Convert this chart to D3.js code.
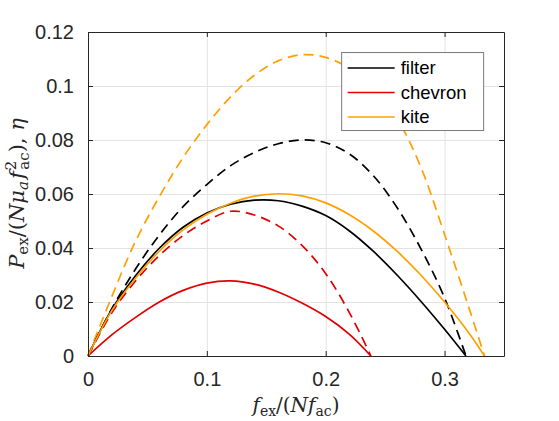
<!DOCTYPE html>
<html>
<head>
<meta charset="utf-8">
<script src="https://cdn.jsdelivr.net/npm/d3@7"></script>
<style>
    body { margin: 0; background: #fff; }
    .axis .tick text { font-family: "Liberation Sans", Arial, sans-serif; font-size: 20px; fill: #262626; }
    .legend-label { font-family: "Liberation Sans", Arial, sans-serif; font-size: 18.5px; fill: #000; }
    .math { font-family: "DejaVu Serif", serif; fill: #262626; }
</style>
</head>
<body>
<div id="chart"></div>
<script>
// values
let seriesNames = ["filter", "chevron", "kite"];
let seriesColors = ["#000000", "#e00000", "#ffa000"];

let xFilter = [0, 0.02, 0.04, 0.06, 0.08, 0.10, 0.12, 0.14, 0.16, 0.18, 0.20, 0.22, 0.24, 0.26, 0.28, 0.30, 0.318];
let filterPower = [0, 0.0172, 0.0297, 0.0399, 0.0477, 0.0530, 0.0562, 0.0577, 0.0575, 0.0555, 0.0520, 0.0463, 0.0388, 0.0300, 0.0203, 0.0099, 0];
let filterEff = [0, 0.0175, 0.0322, 0.0448, 0.0553, 0.0635, 0.0705, 0.0754, 0.0786, 0.0800, 0.0790, 0.0748, 0.0668, 0.0550, 0.0398, 0.0215, 0];

let xChevron = [0, 0.02, 0.04, 0.06, 0.08, 0.10, 0.12, 0.14, 0.16, 0.18, 0.20, 0.22, 0.238];
let chevronPower = [0, 0.0078, 0.0143, 0.0200, 0.0243, 0.0270, 0.0278, 0.0266, 0.0237, 0.0196, 0.0146, 0.0080, 0];
let chevronEff = [0, 0.0160, 0.0278, 0.0372, 0.0446, 0.0500, 0.0536, 0.0522, 0.0482, 0.0410, 0.0305, 0.0160, 0];

let xKite = [0, 0.02, 0.04, 0.06, 0.08, 0.10, 0.12, 0.14, 0.16, 0.18, 0.20, 0.22, 0.24, 0.26, 0.28, 0.30, 0.32, 0.3336];
let kitePower = [0, 0.0168, 0.0288, 0.0388, 0.0467, 0.0525, 0.0566, 0.0592, 0.0601, 0.0593, 0.0567, 0.0523, 0.0463, 0.0388, 0.0300, 0.0200, 0.0088, 0];
let kiteEff = [0, 0.0220, 0.0425, 0.0590, 0.0735, 0.0857, 0.0960, 0.1040, 0.1093, 0.1116, 0.1106, 0.1065, 0.0995, 0.0880, 0.0700, 0.0450, 0.0185, 0];

let xTicks = [0, 0.1, 0.2, 0.3];
let xTickLabels = ["0", "0.1", "0.2", "0.3"];
let yTicks = [0, 0.02, 0.04, 0.06, 0.08, 0.1, 0.12];
let yTickLabels = ["0", "0.02", "0.04", "0.06", "0.08", "0.1", "0.12"];

let margin = { top: 32, right: 55, bottom: 65, left: 88 };
let width = 559 - margin.left - margin.right;
let height = 421 - margin.top - margin.bottom;

let svg = d3.select("#chart").append("svg")
    .attr("width", 559)
    .attr("height", 421)
    .append("g")
    .attr("transform", `translate(${margin.left}, ${margin.top})`);

let x = d3.scaleLinear().domain([0, 0.35]).range([0, width]);
let y = d3.scaleLinear().domain([0, 0.12]).range([height, 0]);

// grid
svg.append("g")
    .attr("class", "grid")
    .attr("transform", `translate(0, ${height})`)
    .call(d3.axisBottom(x).tickValues(xTicks).tickSize(-height).tickFormat(""))
    .call(g => g.select(".domain").remove())
    .call(g => g.selectAll("line").attr("stroke", "#e3e3e3"));
svg.append("g")
    .attr("class", "grid")
    .call(d3.axisLeft(y).tickValues(yTicks).tickSize(-width).tickFormat(""))
    .call(g => g.select(".domain").remove())
    .call(g => g.selectAll("line").attr("stroke", "#e3e3e3"));

// curves
let line = d3.line()
    .x(d => x(d[0]))
    .y(d => y(d[1]))
    .curve(d3.curveCatmullRom.alpha(0.5));

let curves = [
    { xs: xFilter, ys: filterEff, color: 0, dashed: true },
    { xs: xChevron, ys: chevronEff, color: 1, dashed: true },
    { xs: xKite, ys: kiteEff, color: 2, dashed: true },
    { xs: xFilter, ys: filterPower, color: 0, dashed: false },
    { xs: xChevron, ys: chevronPower, color: 1, dashed: false },
    { xs: xKite, ys: kitePower, color: 2, dashed: false }
];

svg.selectAll(".curve")
    .data(curves)
    .join("path")
    .attr("class", "curve")
    .attr("fill", "none")
    .attr("stroke", d => seriesColors[d.color])
    .attr("stroke-width", 1.7)
    .attr("stroke-dasharray", d => d.dashed ? "10,6" : null)
    .attr("d", d => line(d.xs.map((v, i) => [v, d.ys[i]])));

// axes, ticks pointing inward
let yFmt = d => yTickLabels[yTicks.indexOf(d)];
let xFmt = d => xTickLabels[xTicks.indexOf(d)];

svg.append("g")
    .attr("class", "axis x-axis")
    .attr("transform", `translate(0, ${height})`)
    .call(d3.axisBottom(x).tickValues(xTicks).tickSize(-5).tickPadding(16).tickSizeOuter(0).tickFormat(xFmt));
svg.append("g")
    .attr("class", "axis y-axis")
    .call(d3.axisLeft(y).tickValues(yTicks).tickSize(-5).tickPadding(14).tickSizeOuter(0).tickFormat(yFmt));
svg.append("g")
    .attr("class", "axis")
    .call(d3.axisTop(x).tickValues(xTicks).tickSize(-5).tickSizeOuter(0).tickFormat(""));
svg.append("g")
    .attr("class", "axis")
    .attr("transform", `translate(${width}, 0)`)
    .call(d3.axisRight(y).tickValues(yTicks).tickSize(-5).tickSizeOuter(0).tickFormat(""));

svg.selectAll(".axis .domain, .axis .tick line").attr("stroke", "#262626");

// legend
let legend = svg.append("g")
    .attr("transform", `translate(${x(0.2134)}, ${y(0.1124)})`);
legend.append("rect")
    .attr("width", 142)
    .attr("height", 78)
    .attr("fill", "#fff")
    .attr("stroke", "#7a7a7a")
    .attr("stroke-width", 1);
seriesNames.forEach((name, i) => {
    legend.append("line")
        .attr("x1", 6).attr("x2", 53)
        .attr("y1", 15.5 + i * 24.5).attr("y2", 15.5 + i * 24.5)
        .attr("stroke", seriesColors[i])
        .attr("stroke-width", 1.7);
    legend.append("text")
        .attr("class", "legend-label")
        .attr("x", 59)
        .attr("y", 15.5 + i * 24.5)
        .attr("dy", "0.35em")
        .text(name);
});

// x label: f_ex/(N f_ac)
let xl = svg.append("text")
    .attr("class", "math")
    .attr("x", width / 2)
    .attr("y", height + 56)
    .attr("text-anchor", "middle")
    .style("font-size", "20px");
xl.append("tspan").style("font-style", "italic").text("f");
xl.append("tspan").attr("dy", 4).style("font-size", "14px").text("ex");
xl.append("tspan").attr("dy", -4).text("/(");
xl.append("tspan").style("font-style", "italic").text("Nf");
xl.append("tspan").attr("dy", 4).style("font-size", "14px").text("ac");
xl.append("tspan").attr("dy", -4).text(")");

// y label: P_ex/(N mu_a f^2_ac), eta
let yl = svg.append("text")
    .attr("class", "math")
    .attr("transform", `translate(${-64}, ${161.5}) rotate(-90)`)
    .attr("text-anchor", "middle")
    .style("font-size", "21px");
yl.append("tspan").style("font-style", "italic").text("P");
yl.append("tspan").attr("dy", 4).style("font-size", "15px").text("ex");
yl.append("tspan").attr("dy", -4).text("/(");
yl.append("tspan").style("font-style", "italic").text("Nμ");
yl.append("tspan").attr("dy", 4).style("font-size", "15px").style("font-style", "italic").text("a");
yl.append("tspan").attr("dx", 2).attr("dy", -4).style("font-style", "italic").text("f");
yl.append("tspan").attr("dx", 1).attr("dy", -8).style("font-size", "15px").text("2");
yl.append("tspan").attr("dx", -9).attr("dy", 13).style("font-size", "15px").text("ac");
yl.append("tspan").attr("dy", -5).text("), ");
yl.append("tspan").style("font-style", "italic").text("η");
</script>
</body>
</html>
